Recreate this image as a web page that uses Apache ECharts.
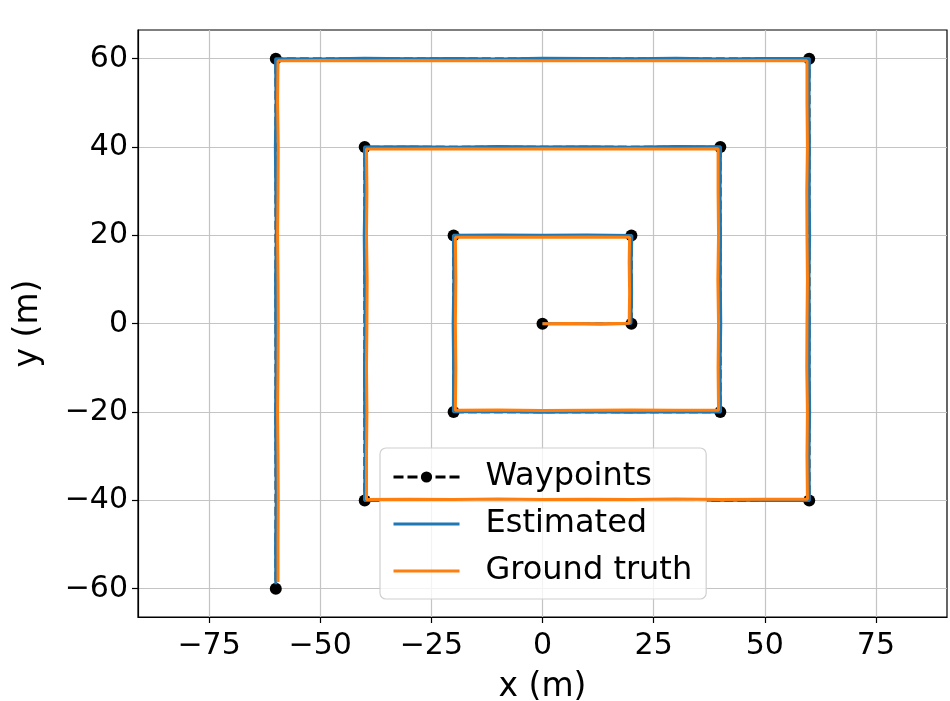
<!DOCTYPE html>
<html>
<head>
<meta charset="utf-8">
<script src="https://cdn.jsdelivr.net/npm/echarts@6/dist/echarts.min.js"></script>
<style>
html,body{margin:0;padding:0;background:#fff;}
#chart{width:950px;height:701px;}
</style>
</head>
<body>
<div id="chart"></div>
<script>
// Waypoints
var wpX = [0, 20, 20, -20, -20, 40, 40, -40, -40, 60, 60, -60, -60];
var wpY = [0, 0, 20, 20, -20, -20, 40, 40, -40, -40, 60, 60, -60];

// Estimated trajectory
var estX = [0, 6, 13, 19.9, 20.05, 19.95, 20.1, 10, 0, -10, -20.05, -19.95, -20.1, -20, -20.05, -10, 0, 10, 20, 30, 40.05, 39.95, 40.1, 40, 40.05, 39.95, 40.05, 30, 20, 10, 0, -10, -20, -30, -40.05, -39.95, -40.1, -40, -39.9, -40.05, -40, -39.9, -40.05, -30, -20, -10, 0, 10, 20, 30, 40, 50, 60.05, 59.95, 60.1, 60, 60.05, 59.95, 60.1, 60, 60.05, 59.95, 60.05, 50, 40, 30, 20, 10, 0, -10, -20, -30, -40, -50, -60.05, -59.95, -60.1, -60, -59.9, -60.05, -60, -59.95, -60.05, -60, -59.9, -60.05, -60];
var estY = [0, 0.05, -0.05, 0.05, 7, 14, 20, 20.1, 20.05, 20.1, 20.05, 10, 0, -10, -19.95, -19.9, -20.05, -19.95, -20.05, -19.95, -20, -10, 0, 10, 20, 30, 40.05, 40.1, 39.95, 40.05, 40, 40.1, 39.95, 40.05, 40, 30, 20, 10, 0, -10, -20, -30, -40, -40.05, -39.95, -40.1, -40, -39.95, -40.05, -40, -39.9, -40.05, -40, -30, -20, -10, 0, 10, 20, 30, 40, 50, 60.05, 60.05, 59.95, 60.1, 60, 60.05, 60.1, 59.95, 60.05, 60, 60.1, 59.95, 60, 50, 40, 30, 20, 10, 0, -10, -20, -30, -40, -50, -59];

// Ground truth trajectory
var gtX = [0, 6, 13, 19.5, 19.6, 19.5, 19.6, 10, 0, -10, -19.6, -19.5, -19.6, -19.5, -19.6, -10, 0, 10, 20, 30, 39.6, 39.5, 39.6, 39.45, 39.6, 39.5, 39.5, 30, 20, 10, 0, -10, -20, -30, -39.6, -39.5, -39.6, -39.45, -39.5, -39.6, -39.5, -39.6, -39.6, -30, -20, -10, 0, 10, 20, 30, 40, 50, 59.6, 59.5, 59.6, 59.45, 59.5, 59.6, 59.5, 59.45, 59.6, 59.5, 59.5, 50, 40, 30, 20, 10, 0, -10, -20, -30, -40, -50, -59.5, -59.6, -59.45, -59.5, -59.6, -59.5, -59.45, -59.5, -59.6, -59.5, -59.45, -59.5, -59.5];
var gtY = [0, 0.05, 0, 0.1, 7, 14, 19.6, 19.65, 19.55, 19.6, 19.55, 10, 0, -10, -19.6, -19.55, -19.65, -19.6, -19.55, -19.6, -19.6, -10, 0, 10, 20, 30, 39.6, 39.55, 39.6, 39.55, 39.6, 39.55, 39.6, 39.55, 39.55, 30, 20, 10, 0, -10, -20, -30, -39.8, -39.75, -39.8, -39.7, -39.8, -39.75, -39.8, -39.7, -39.8, -39.75, -39.75, -30, -20, -10, 0, 10, 20, 30, 40, 50, 59.55, 59.6, 59.55, 59.6, 59.55, 59.6, 59.55, 59.6, 59.55, 59.6, 59.55, 59.6, 59.55, 50, 40, 30, 20, 10, 0, -10, -20, -30, -40, -50, -58.5];

// Axis ticks
var xTicks = [-75, -50, -25, 0, 25, 50, 75];
var yTicks = [-60, -40, -20, 0, 20, 40, 60];
var xRange = [-91, 91];
var yRange = [-66.4, 66.5];

function pairs(xs, ys) { return xs.map(function (x, i) { return [x, ys[i]]; }); }
function fmt(v) { return v < 0 ? '\u2212' + Math.abs(v) : String(v); }

var FONT = 'DejaVu Sans';
var LINE_ICON = 'path://M0,0 H66 V3 H0 Z';
var chart = echarts.init(document.getElementById('chart'), null, { renderer: 'canvas' });
chart.setOption({
  animation: false,
  backgroundColor: '#ffffff',
  grid: { left: 138, right: 3, top: 30, bottom: 84, containLabel: false, outerBoundsMode: 'none', show: true, borderColor: '#000', borderWidth: 1.2, backgroundColor: 'transparent' },
  xAxis: {
    type: 'value', min: xRange[0], max: xRange[1],
    name: 'x (m)', nameLocation: 'middle', nameGap: 54,
    nameTextStyle: { fontFamily: FONT, fontSize: 33, color: '#000' },
    axisLine: { show: true, onZero: false, lineStyle: { color: '#000', width: 1.2 } },
    axisTick: { show: true, length: 6, customValues: xTicks, lineStyle: { color: '#000', width: 1.2 } },
    axisLabel: { customValues: xTicks, formatter: fmt, fontFamily: FONT, fontSize: 30, color: '#000', margin: 14 },
    splitLine: { show: true, lineStyle: { color: '#c4c4c4', width: 1.2 } }
  },
  yAxis: {
    type: 'value', min: yRange[0], max: yRange[1],
    name: 'y (m)', nameLocation: 'middle', nameGap: 93, nameRotate: 90,
    nameTextStyle: { fontFamily: FONT, fontSize: 33, color: '#000' },
    axisLine: { show: true, onZero: false, lineStyle: { color: '#000', width: 1.2 } },
    axisTick: { show: true, length: 6, customValues: yTicks, lineStyle: { color: '#000', width: 1.2 } },
    axisLabel: { customValues: yTicks, formatter: fmt, fontFamily: FONT, fontSize: 30, color: '#000', margin: 10 },
    splitLine: { show: true, lineStyle: { color: '#c4c4c4', width: 1.2 } }
  },
  legend: {
    orient: 'vertical', left: 380, top: 448,
    itemWidth: 66, itemHeight: 14, itemGap: 11,
    symbolKeepAspect: true,
    padding: [11, 14, 10, 12],
    backgroundColor: 'rgba(255,255,255,0.8)', borderColor: '#d0d0d0', borderWidth: 1.2, borderRadius: 6,
    textStyle: { fontFamily: FONT, fontSize: 32, color: '#000', lineHeight: 36, padding: [0, 0, 0, 21] },
    data: [
      { name: 'Waypoints', lineStyle: { width: 3, type: [10, 4], color: '#000' }, itemStyle: { color: '#000' } },
      { name: 'Estimated', icon: LINE_ICON, itemStyle: { color: '#1f77b4' } },
      { name: 'Ground truth', icon: LINE_ICON, itemStyle: { color: '#ff7f0e' } }
    ]
  },
  series: [
    {
      name: 'Waypoints', type: 'line', data: pairs(wpX, wpY),
      symbol: 'circle', symbolSize: 12, showSymbol: true,
      lineStyle: { color: '#000', width: 2.5, type: [9, 4] },
      itemStyle: { color: '#000' }, z: 2
    },
    {
      name: 'Estimated', type: 'line', data: pairs(estX, estY),
      symbol: 'none', lineStyle: { color: '#1f77b4', width: 3 }, itemStyle: { color: '#1f77b4' }, z: 3
    },
    {
      name: 'Ground truth', type: 'line', data: pairs(gtX, gtY),
      symbol: 'none', lineStyle: { color: '#ff7f0e', width: 3 }, itemStyle: { color: '#ff7f0e' }, z: 4
    }
  ]
});
</script>
</body>
</html>
